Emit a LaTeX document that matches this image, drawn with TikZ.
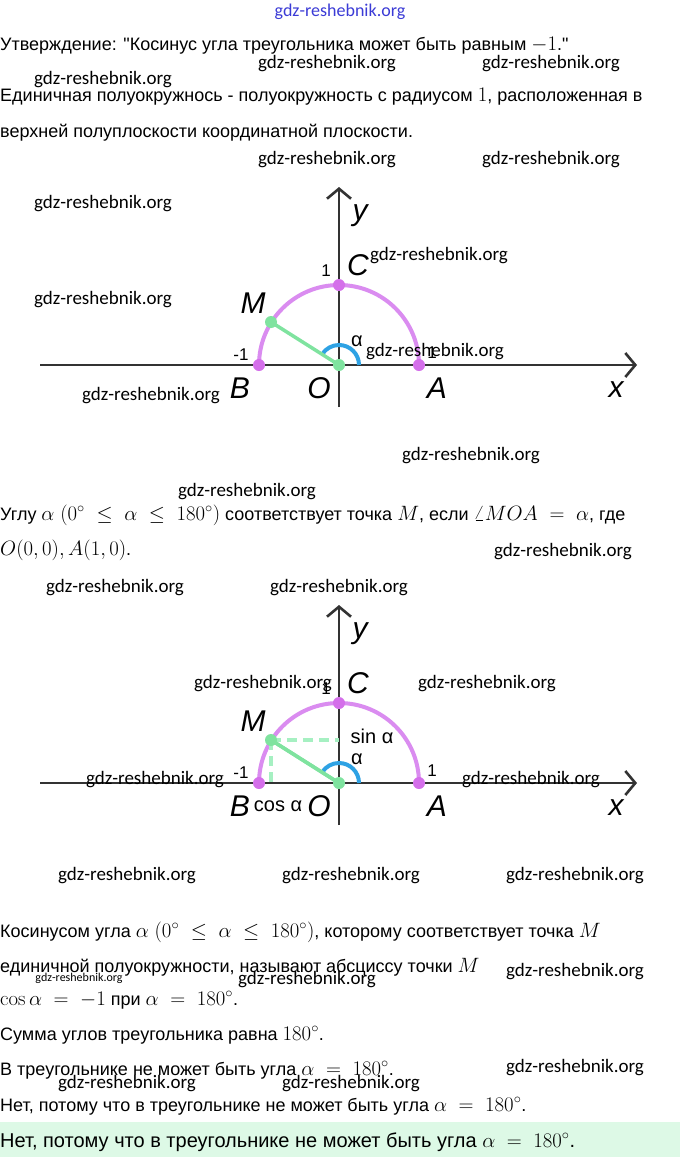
\documentclass[tikz,border=0pt]{standalone}
\usepackage[no-math]{fontspec}
\setmainfont{Liberation Sans}[Ligatures=TeXOff]
\newfontfamily\wmfont{Carlito}
\usetikzlibrary{arrows.meta,positioning}

\definecolor{axisgray}{HTML}{333333}
\definecolor{lilac}{HTML}{DA8CF0}
\definecolor{dotlilac}{HTML}{D46FEA}
\definecolor{mint}{HTML}{7FE39F}
\definecolor{dashmint}{HTML}{A6F0C2}
\definecolor{anglblue}{HTML}{2EA2E4}
\definecolor{wmblue}{HTML}{3B3BD6}
\definecolor{answer}{HTML}{DDF9E6}

\tikzset{
  line/.style={anchor=base west, inner sep=0pt, font=\fontsize{18}{22}\selectfont},
  wm/.style={inner sep=0pt, font=\wmfont\fontsize{19}{20}\selectfont},
  axis/.style={draw=axisgray, line width=2.6pt, -{Straight Barb[length=10pt,width=24pt]}},
  lbl/.style={inner sep=0pt, font=\fontsize{30}{30}\selectfont\itshape},
  num/.style={inner sep=0pt, font=\fontsize{17}{17}\selectfont},
  pdot/.style={circle, fill=dotlilac, inner sep=0pt, minimum size=12pt},
  gdot/.style={circle, fill=mint, inner sep=0pt, minimum size=12pt},
}
\newcommand\mth[1]{{\fontsize{21}{21}\selectfont$#1$}}

\begin{document}
\begin{tikzpicture}[x=1pt,y=-1pt]
  \useasboundingbox (0,0) rectangle (680,1157);
  \fill[white] (0,0) rectangle (680,1157);
  \fill[answer] (0,1122) rectangle (680,1157);

  % text lines
  \node[line] (t1) at (0,50) {Утверждение: "Косинус угла треугольника может быть равным \mth{-1}."};
  \node[line] (t2) at (0,101) {Единичная полуокружнось - полуокружность с радиусом \mth{1}, расположенная в};
  \node[line] (t3) at (0,137) {верхней полуплоскости координатной плоскости.};
  \node[line] (t4) at (0,520) {Углу \mth{\alpha \ (0^{\circ} \ \leq \ \alpha \ \leq \ 180^{\circ})} соответствует точка \mth{M}, если \mth{\angle MOA \ = \ \alpha}, где};
  \node[line] (t5) at (0,555) {\mth{O(0,0), A(1,0)}.};
  \node[line] (t6) at (0,937) {Косинусом угла \mth{\alpha \ (0^{\circ} \ \leq \ \alpha \ \leq \ 180^{\circ})}, которому соответствует точка \mth{M}};
  \node[line] (t7) at (0,972) {единичной полуокружности, называют абсциссу точки \mth{M}};
  \node[line] (t8) at (0,1005) {\mth{\cos\alpha \ = \ -1} при \mth{\alpha \ = \ 180^{\circ}}.};
  \node[line] (t9) at (0,1040) {Сумма углов треугольника равна \mth{180^{\circ}}.};
  \node[line] (t10) at (0,1075) {В треугольнике не может быть угла \mth{\alpha \ = \ 180^{\circ}}.};
  \node[line] (t11) at (0,1111) {Нет, потому что в треугольнике не может быть угла \mth{\alpha \ = \ 180^{\circ}}.};
  \node[line, font=\fontsize{20}{22}\selectfont] (t12) at (0,1147) {Нет, потому что в треугольнике не может быть угла \mth{\alpha \ = \ 180^{\circ}}.};

  % the two unit semicircles
  \foreach \d/\oy in {1/365, 2/783} {
    \coordinate (xl\d) at (40,\oy);
    \coordinate (xr\d) at (637,\oy);
    \coordinate (yb\d) at (339,\oy+42);
    \coordinate (yt\d) at (339,\oy-178);
    \coordinate (O\d) at (339,\oy);
    \coordinate (A\d) at (419,\oy);
    \coordinate (B\d) at (259,\oy);
    \coordinate (C\d) at (339,\oy-80);
    \coordinate (M\d) at (271,\oy-43);
    \draw[axis] (xl\d) -- (xr\d);
    \draw[axis] (yb\d) -- (yt\d);
    \draw[lilac, line width=4pt] (A\d) arc[start angle=0, end angle=-180, radius=80];
    \draw[anglblue, line width=4pt] ([xshift=20pt]O\d) arc[start angle=0, end angle=-147, radius=20];
    \draw[mint, line width=3.5pt] (O\d) -- (M\d);
    \node[lbl] (ly\d) at (360,\oy-149) {y};
    \node[lbl] (lC\d) at (358,\oy-100) {C};
    \node[lbl] (lM\d) at (253,\oy-62) {M};
    \node[lbl] (lB\d) at (240,\oy+23) {B};
    \node[lbl] (lO\d) at (319,\oy+23) {O};
    \node[lbl] (lA\d) at (437,\oy+23) {A};
    \node[lbl] (lx\d) at (616,\oy+25) {x};
    \node[num] (m1\d) at (241,\oy-10) {-1};
    \node[num] (p1\d) at (432,\oy-12) {1};
    \node[num] (c1\d) at (326,\oy-94) {1};
    \node[num, font=\fontsize{20}{20}\selectfont] (al\d) at (357,\oy-24) {α};
  }

  % projections of M
  \coordinate (Msin) at (339,740);
  \coordinate (Mcos) at (271,783);
  \draw[dashmint, line width=3.5pt, dash pattern=on 10pt off 6pt] (M2) -- (Msin);
  \draw[dashmint, line width=3.5pt, dash pattern=on 10pt off 6pt] (M2) -- (Mcos);
  \draw[mint, line width=3.5pt] (O2) -- (M2);
  \node[num, font=\fontsize{20}{20}\selectfont] (sin) at (372,736) {sin α};
  \node[num, font=\fontsize{20}{20}\selectfont] (cos) at (278,806) {cos α};

  % points
  \foreach \d in {1,2} {
    \node[pdot] (pA\d) at (A\d) {};
    \node[pdot] (pB\d) at (B\d) {};
    \node[pdot] (pC\d) at (C\d) {};
    \node[gdot] (pM\d) at (M\d) {};
    \node[gdot] (pO\d) at (O\d) {};
  }

  % watermarks
  \node[wm, text=wmblue, font=\wmfont\fontsize{18}{20}\selectfont] (wm0) at (340,12) {gdz-reshebnik.org};
  \foreach \wx/\wy [count=\i] in {327/64, 551/64, 103/80, 327/160, 551/160, 103/204,
      439/256, 103/300, 435/352, 151/396, 471/456, 247/492, 563/552, 115/588, 339/588,
      263/684, 487/684, 155/780, 531/780, 127/876, 351/876, 575/876, 307/980, 575/972,
      575/1068, 127/1084, 351/1084}
    \node[wm] (wm\i) at (\wx,\wy) {gdz-reshebnik.org};
  \node[wm, font=\wmfont\fontsize{12}{13}\selectfont] (wms) at (79,978) {gdz-reshebnik.org};
\end{tikzpicture}
\end{document}
